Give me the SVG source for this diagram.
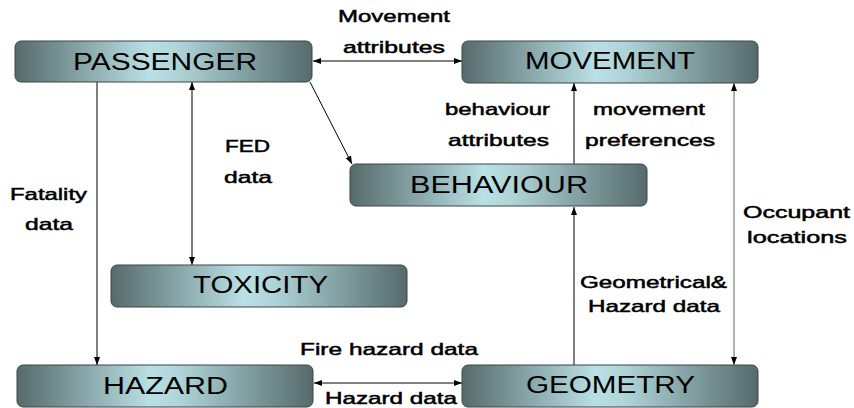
<svg xmlns="http://www.w3.org/2000/svg" width="854" height="408" viewBox="0 0 854 408">
<defs>
<linearGradient id="g" x1="0" y1="0" x2="1" y2="0">
<stop offset="0" stop-color="#566a6b"/>
<stop offset="0.45" stop-color="#b9e0e4"/>
<stop offset="0.55" stop-color="#aed4d8"/>
<stop offset="1" stop-color="#566a6b"/>
</linearGradient>
<marker id="a" viewBox="0 0 8 8" refX="8" refY="4" markerWidth="8" markerHeight="8" markerUnits="userSpaceOnUse" orient="auto-start-reverse">
<path d="M0,1 L8,4 L0,7 Z" fill="#000"/>
</marker>
<style>
.n rect{fill:url(#g);stroke:#3b4747;stroke-width:1}
.n text{font-family:"Liberation Sans",Arial,sans-serif;font-size:23px;fill:#000}
.l{font-family:"Liberation Sans",Arial,sans-serif;font-size:17px;fill:#000;stroke:#000;stroke-width:0.5}
.c line{stroke:#000;stroke-width:1;fill:none}
</style>
</defs>
<rect width="854" height="408" fill="#fff"/>
<g class="c">
<line x1="313" y1="61" x2="462" y2="61" marker-start="url(#a)" marker-end="url(#a)"/>
<line x1="310" y1="82" x2="352" y2="164" marker-end="url(#a)"/>
<line x1="192" y1="82" x2="192" y2="265" marker-start="url(#a)" marker-end="url(#a)"/>
<line x1="97" y1="82" x2="97" y2="365" marker-end="url(#a)"/>
<line x1="574" y1="164" x2="574" y2="83" marker-end="url(#a)"/>
<line x1="574" y1="365" x2="574" y2="207" marker-end="url(#a)"/>
<line x1="734" y1="83" x2="734" y2="365" marker-start="url(#a)" marker-end="url(#a)" style="stroke:#666"/>
<line x1="314" y1="383" x2="462" y2="383" marker-start="url(#a)" marker-end="url(#a)"/>
</g>
<g id="passenger" class="n"><rect x="15" y="41" width="297" height="41" rx="6"/><text x="73" y="70" textLength="184" lengthAdjust="spacingAndGlyphs">PASSENGER</text></g>
<g id="movement" class="n"><rect x="462" y="41" width="296" height="42" rx="6"/><text x="525" y="69" textLength="170" lengthAdjust="spacingAndGlyphs">MOVEMENT</text></g>
<g id="behaviour" class="n"><rect x="350" y="164" width="297" height="42" rx="6"/><text x="410" y="193" textLength="178" lengthAdjust="spacingAndGlyphs">BEHAVIOUR</text></g>
<g id="toxicity" class="n"><rect x="111" y="265" width="296" height="42" rx="6"/><text x="193" y="293" textLength="135" lengthAdjust="spacingAndGlyphs">TOXICITY</text></g>
<g id="hazard" class="n"><rect x="17" y="365" width="296" height="42" rx="6"/><text x="103" y="394" textLength="125" lengthAdjust="spacingAndGlyphs">HAZARD</text></g>
<g id="geometry" class="n"><rect x="462" y="365" width="296" height="42" rx="6"/><text x="526" y="393" textLength="169" lengthAdjust="spacingAndGlyphs">GEOMETRY</text></g>
<g id="labels">
<text class="l" x="338" y="22" textLength="112" lengthAdjust="spacingAndGlyphs">Movement</text>
<text class="l" x="343" y="53" textLength="102" lengthAdjust="spacingAndGlyphs">attributes</text>
<text class="l" x="445" y="115" textLength="105" lengthAdjust="spacingAndGlyphs">behaviour</text>
<text class="l" x="448" y="146" textLength="101" lengthAdjust="spacingAndGlyphs">attributes</text>
<text class="l" x="593" y="115" textLength="112" lengthAdjust="spacingAndGlyphs">movement</text>
<text class="l" x="585" y="146" textLength="130" lengthAdjust="spacingAndGlyphs">preferences</text>
<text class="l" x="225" y="152" textLength="45" lengthAdjust="spacingAndGlyphs">FED</text>
<text class="l" x="224" y="183" textLength="48" lengthAdjust="spacingAndGlyphs">data</text>
<text class="l" x="10" y="200" textLength="77" lengthAdjust="spacingAndGlyphs">Fatality</text>
<text class="l" x="25" y="230" textLength="48" lengthAdjust="spacingAndGlyphs">data</text>
<text class="l" x="743" y="218" textLength="107" lengthAdjust="spacingAndGlyphs">Occupant</text>
<text class="l" x="747" y="243" textLength="100" lengthAdjust="spacingAndGlyphs">locations</text>
<text class="l" x="580" y="288" textLength="147" lengthAdjust="spacingAndGlyphs">Geometrical&amp;</text>
<text class="l" x="588" y="312" textLength="132" lengthAdjust="spacingAndGlyphs">Hazard data</text>
<text class="l" x="300" y="355" textLength="178" lengthAdjust="spacingAndGlyphs">Fire hazard data</text>
<text class="l" x="325" y="404" textLength="132" lengthAdjust="spacingAndGlyphs">Hazard data</text>
</g>
</svg>
